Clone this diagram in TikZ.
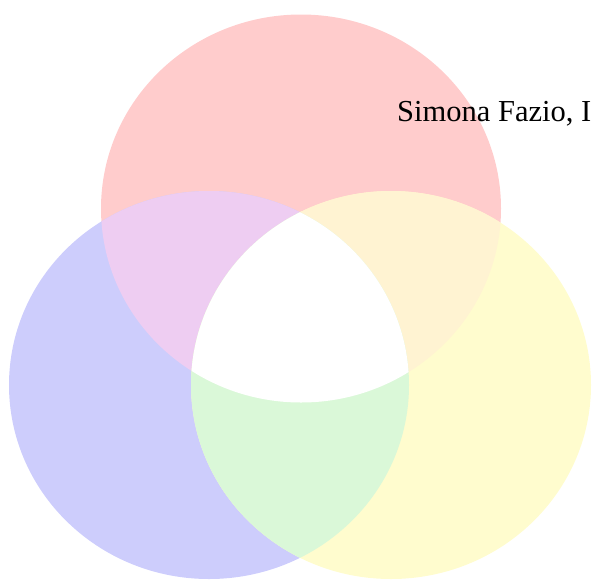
\documentclass[tikz,border=0pt]{standalone}
\usepackage{fontspec}
\setmainfont{Liberation Serif}
\definecolor{vennred}{RGB}{255,204,204}
\definecolor{vennblue}{RGB}{205,205,252}
\definecolor{vennyellow}{RGB}{255,252,206}
\definecolor{vennlilac}{RGB}{238,205,242}
\definecolor{venncream}{RGB}{255,243,210}
\definecolor{venngreen}{RGB}{218,248,216}

\begin{document}
\begin{tikzpicture}[
    x=1pt, y=-1pt,
    set/.style={x radius=200, y radius=194},
    author/.style={anchor=base west, inner sep=0pt, font=\fontsize{30.5}{36}\selectfont}
]
\useasboundingbox (0,0) rectangle (593,579);
\clip (0,0) rectangle (593,579);

\coordinate (red) at (301,208.5);
\coordinate (blue) at (209,385);
\coordinate (yellow) at (391,385);

% === Conjuntos ===
\fill[vennred] (red) ellipse [set];
\fill[vennblue] (blue) ellipse [set];
\fill[vennyellow] (yellow) ellipse [set];

% === Intersecciones ===
\begin{scope}
    \clip (red) ellipse [set];
    \fill[vennlilac] (blue) ellipse [set];
    \fill[venncream] (yellow) ellipse [set];
\end{scope}
\begin{scope}
    \clip (blue) ellipse [set];
    \fill[venngreen] (yellow) ellipse [set];
    \clip (red) ellipse [set];
    \fill[white] (yellow) ellipse [set];
\end{scope}

\node[author] (nombre) at (397,121) {Simona Fazio, I};

\end{tikzpicture}
\end{document}
